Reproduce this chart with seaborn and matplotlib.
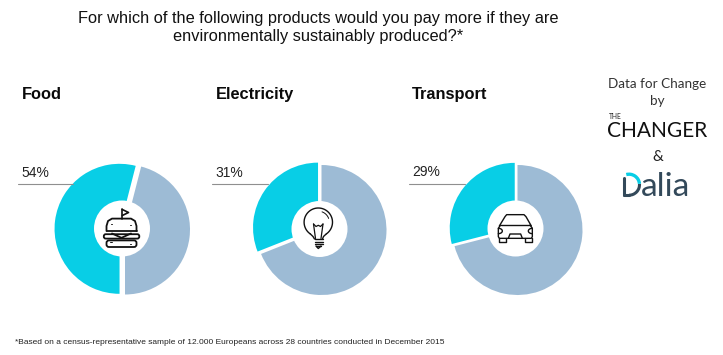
import numpy as np
import matplotlib
matplotlib.use("Agg")
import matplotlib.pyplot as plt
from matplotlib.patches import Circle, FancyBboxPatch, Arc
import seaborn as sns

# ---- data ----
categories = ["Food", "Electricity", "Transport"]
would_pay_more = [54, 31, 29]
rest = [46, 69, 71]
value_labels = ["54%", "31%", "29%"]
title_lines = ["For which of the following products would you pay more if they are",
               "environmentally sustainably produced?*"]
footnote = ("*Based on a census-representative sample of 12.000 Europeans across "
            "28 countries conducted in December 2015")

CYAN, BLUE = "#08CEE6", "#9DBBD5"
INK = "#111111"
W, H = 723, 355

sns.set_theme(style="white")
plt.rcParams["font.family"] = ["Liberation Sans", "DejaVu Sans"]
palette = sns.color_palette([CYAN, BLUE])

fig = plt.figure(figsize=(W / 100, H / 100), dpi=100)
ax = fig.add_axes([0, 0, 1, 1])

def Y(y):
    return H - y

def stroke(xs, ys, lw=1.0, color=INK, z=8):
    ax.plot(xs, [Y(v) for v in ys], color=color, lw=lw, solid_capstyle="round",
            solid_joinstyle="round", zorder=z)

# layout per panel (pixels of the 723x355 canvas)
pie_centres = [(125, 229.5), (321.5, 230), (517.5, 230)]
hole_centres = [(122, 228.5), (319.5, 229), (515.5, 228.5)]
start_angles = [270, 90 + would_pay_more[1] * 3.6, 90 + would_pay_more[2] * 3.6]
explodes = [5.5, 4.2, 3.5]          # pie() takes these in data units (pixels here)
heading_x = [21.5, 215.5, 412]
label_x = [21, 215, 412]
label_y = [173, 173, 172]
leader = [(18, 73, 184.3), (212, 268, 184.3), (409, 465, 183.5)]

for i, cat in enumerate(categories):
    cx, cy = pie_centres[i]
    ax.pie([would_pay_more[i], rest[i]], colors=palette, center=(cx, Y(cy)), radius=65,
           startangle=start_angles[i], counterclock=False,
           explode=[explodes[i], 0], frame=True,
           wedgeprops=dict(linewidth=0))
    hx, hy = hole_centres[i]
    ax.add_patch(Circle((hx, Y(hy)), 28, fc="white", ec="none", zorder=5))
    ax.text(heading_x[i], Y(94.5), cat, fontsize=11.8, fontweight="bold", color="#0a0a0a",
            ha="left", va="center")
    ax.text(label_x[i], Y(label_y[i]), value_labels[i], fontsize=10, color="#222222",
            ha="left", va="center")
    x0, x1, ly = leader[i]
    stroke([x0, x1], [ly, ly], lw=0.8, color="#8f8f8f", z=6)

ax.set_xlim(0, W)
ax.set_ylim(0, H)
ax.set_aspect("equal")
ax.axis("off")

# ---- burger icon ----
stroke([122.3, 122.3], [209, 218.5], lw=1.2)
stroke([122.3, 128.5, 122.3], [209.5, 212.5, 215.5], lw=1.2)
stroke([106.5, 136.5], [231, 231], lw=1.3)
dome_x = [106.5, 106.5, 108, 112, 131, 135, 136.5, 136.5]
dome_y = [231, 226, 221, 218.6, 218.6, 221, 226, 231]
stroke(dome_x, dome_y, lw=1.3)
ax.add_patch(FancyBboxPatch((103.8, Y(238.6)), 35.5, 4.4, boxstyle="round,pad=0,rounding_size=2",
                            fc="white", ec=INK, lw=1.3, zorder=8))
stroke([112, 121.5, 131], [233.5, 237.8, 233.5], lw=1.3, z=9)
ax.add_patch(FancyBboxPatch((106.5, Y(247)), 30, 6.6, boxstyle="round,pad=0,rounding_size=2.5",
                            fc="white", ec=INK, lw=1.3, zorder=8))
stroke([111, 112], [224, 224], lw=0.7)
stroke([130, 131], [224.5, 224.5], lw=0.7)
stroke([130, 131], [244, 244], lw=0.7, z=9)
stroke([110, 112], [242, 242], lw=0.7, z=9)

# ---- bulb icon ----
a = np.radians(np.linspace(-55, 235, 60))
stroke(list(318.3 + 14.2 * np.cos(a)), list(222.2 - 14.2 * np.sin(a)), lw=1.0)
stroke([310.2, 313, 314.5], [233.8, 236.5, 239], lw=1.0)
stroke([326.4, 323.5, 322.5], [233.8, 236.5, 239], lw=1.0)
stroke([313.5, 316, 318.3, 320.5, 323], [224, 226.5, 225.3, 226.5, 224], lw=0.9)
stroke([313.5, 315.5], [224, 238.5], lw=0.9)
stroke([323, 321], [224, 238.5], lw=0.9)
for yy, x0, x1 in [(239, 314.5, 322.5), (241.5, 314.5, 322.5), (244, 314.5, 322.5), (246, 316, 321)]:
    stroke([x0, x1], [yy, yy], lw=1.0)
stroke([316, 318.3, 321], [246, 248.5, 246], lw=1.0)
a = np.radians(np.linspace(20, 70, 12))
stroke(list(318.3 + 11 * np.cos(a)), list(222.2 - 11 * np.sin(a)), lw=0.7)

# ---- car icon ----
def cx_(v):
    return 470 + v / 3
def cy_(v):
    return 190 + v / 3
stroke([cx_(v) for v in [88, 105, 110, 162, 168, 184]],
       [cy_(v) for v in [108, 80, 74, 74, 80, 108]], lw=1.0)
stroke([cx_(v) for v in [92, 180]], [cy_(105), cy_(105)], lw=1.0)
stroke([cx_(v) for v in [92, 85, 85, 88, 184, 187, 187, 180]],
       [cy_(v) for v in [105, 115, 140, 145, 145, 140, 115, 105]], lw=1.0)
stroke([cx_(v) for v in [88, 88, 107, 107]], [cy_(v) for v in [145, 157, 157, 145]], lw=1.0)
stroke([cx_(v) for v in [165, 165, 185, 185]], [cy_(v) for v in [145, 157, 157, 145]], lw=1.0)
stroke([cx_(v) for v in [115, 120, 152, 157]], [cy_(v) for v in [145, 132, 132, 145]], lw=1.0)
for c0, sgn in [(85, 1), (187, -1)]:
    b = np.radians(np.linspace(-90, 90, 16))
    stroke([cx_(c0 + sgn * 12 * np.cos(v)) for v in b],
           [cy_(123 + 8 * np.sin(v)) for v in b], lw=1.0)

# ---- titles and side text ----
ax.text(318.5, Y(19), title_lines[0], fontsize=11.8, color="#111111", ha="center", va="center")
ax.text(318.5, Y(36), title_lines[1], fontsize=11.8, color="#111111", ha="center", va="center")
ax.text(15, Y(342), footnote, fontsize=6.0, color="#222222", ha="left", va="center")

ax.text(657.5, Y(84), "Data for Change", family="Lato", fontsize=9.7, color="#333333", ha="center", va="center")
ax.text(657.5, Y(101), "by", family="Lato", fontsize=9.7, color="#333333", ha="center", va="center")
ax.text(609, Y(116.5), "THE", family="Lato", fontsize=4.8, color="#222222", ha="left", va="center")
ax.text(707.5, Y(131), "CHANGER", family="Lato", fontsize=15, color="#111111", ha="right", va="center")
ax.text(657.5, Y(157), "&", family="Lato", fontsize=11, color="#222222", ha="center", va="center")

# ---- Dalia logo ----
DARK = "#33495A"
ax.text(641, Y(195.5), "alia", family="Lato", fontsize=24, color=DARK, ha="left", va="baseline")
stroke([624, 624], [178, 195], lw=2.2, color=DARK)
stroke([624, 629], [195, 195], lw=2.2, color=DARK)
ax.add_patch(Arc((629, Y(184.7)), 21, 21, theta1=-90, theta2=5, color=DARK, lw=2.2, zorder=8))
ax.add_patch(Arc((629, Y(184.7)), 21, 21, theta1=5, theta2=105, color=CYAN, lw=2.4, zorder=8))

fig.savefig("out.png", dpi=100, facecolor="white")
